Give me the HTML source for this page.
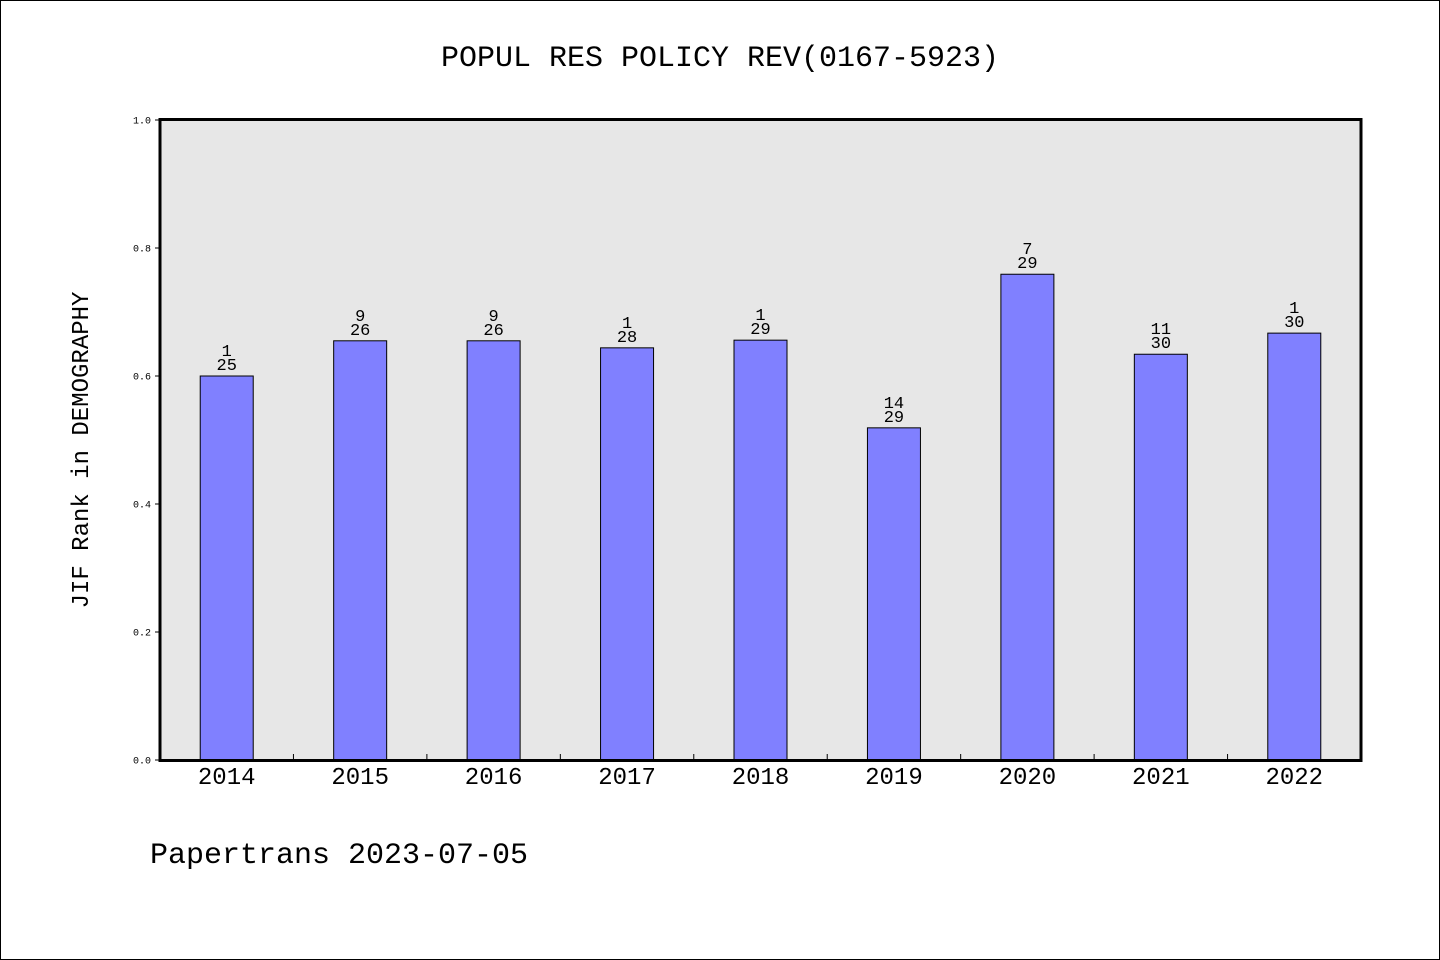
<!DOCTYPE html>
<html><head><meta charset="utf-8"><style>
html,body{margin:0;padding:0;background:#fff;}
svg{display:block;}
text{font-family:"Liberation Mono",monospace;}
</style></head><body>
<svg id="chart" width="1440" height="960" xmlns="http://www.w3.org/2000/svg">
<rect x="0.5" y="0.5" width="1439" height="959" fill="#fff" stroke="#000"/>
<text x="720" y="66" text-anchor="middle" font-size="30">POPUL RES POLICY REV(0167-5923)</text>
<rect x="160" y="119" width="1201" height="642" fill="#e7e7e7"/>
<g id="bars"></g>
<rect x="160" y="119.5" width="1201" height="641" fill="none" stroke="#000" stroke-width="3"/>
<text transform="translate(88,450) rotate(-90)" text-anchor="middle" font-size="24">JIF Rank in DEMOGRAPHY</text>
<text x="150" y="863" font-size="30">Papertrans 2023-07-05</text>
</svg>
<script>
const categories = ["2014","2015","2016","2017","2018","2019","2020","2021","2022"];
const values = [0.600,0.655,0.655,0.644,0.656,0.519,0.759,0.634,0.667];
const ranks = ["1","9","9","1","1","14","7","11","1"];
const totals = ["25","26","26","28","29","29","29","30","30"];
const yTicks = [0.0,0.2,0.4,0.6,0.8,1.0];
const yTickLabels = ["0.0","0.2","0.4","0.6","0.8","1.0"];

const NS="http://www.w3.org/2000/svg";
const svg=document.getElementById('chart');
const g=document.getElementById('bars');
const X0=160,X1=1361,Y0=760,Y1=120;
const band=(X1-X0)/categories.length;
const xC=i=>X0+band*(i+0.5);
const yS=v=>Y0-(Y0-Y1)*v;
function mk(tag,attrs,parent){const e=document.createElementNS(NS,tag);for(const k in attrs)e.setAttribute(k,attrs[k]);(parent||svg).appendChild(e);return e;}

categories.forEach((c,i)=>{
  const x=xC(i),y=yS(values[i]),w=53;
  const r=mk('rect',{x:x-w/2,y:y,width:w,height:Y0-y,fill:'#8080ff',stroke:'#000','stroke-width':1},g);
  
  
  const t1=mk('text',{x:x,y:y-20,'text-anchor':'middle','font-size':17},g);
  t1.textContent=ranks[i];
  
  
  const t2=mk('text',{x:x,y:y-6,'text-anchor':'middle','font-size':17},g);
  t2.textContent=totals[i];
  
  
  const xl=mk('text',{x:x,y:784,'text-anchor':'middle','font-size':24});
  xl.textContent=c;
  
  
  if(i>0){
    const tk=mk('line',{x1:X0+band*i,x2:X0+band*i,y1:760,y2:754,stroke:'#000','stroke-width':1});
    
    
  }
});
yTicks.forEach((v,i)=>{
  const y=yS(v);
  const l=mk('line',{x1:155,x2:160,y1:y,y2:y,stroke:'#000','stroke-width':1});
  
  
  const t=mk('text',{x:151,y:y+3.5,'text-anchor':'end','font-size':10});
  t.textContent=yTickLabels[i];
  
  
});
</script>
</body></html>
